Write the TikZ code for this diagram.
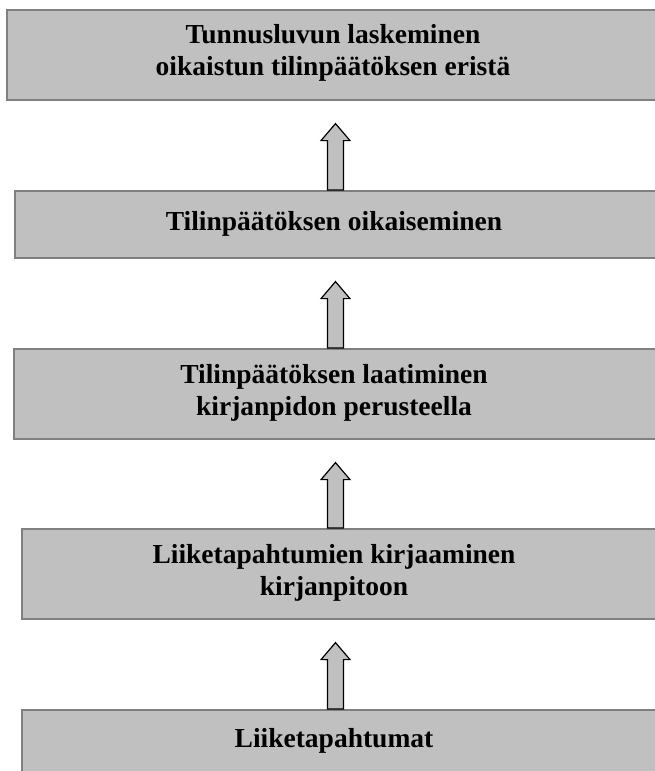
\documentclass[tikz,border=0pt]{standalone}
\usepackage{fontspec}
\setmainfont{Liberation Serif}
\usetikzlibrary{calc,positioning}
\definecolor{boxgray}{RGB}{192,192,192}
\definecolor{edgegray}{RGB}{128,128,128}

% hollow block arrow from lower box #1 up towards upper box #2
\newcommand{\blockup}[2]{%
  \draw[upblock] ($(#1.north -| ax)+(-8,0)$) -- ($(#2.south -| ax)+(-8,40)$)
    -- ($(#2.south -| ax)+(-14.5,40)$) -- ($(#2.south -| ax)+(0,23)$)
    -- ($(#2.south -| ax)+(14.5,40)$) -- ($(#2.south -| ax)+(8,40)$)
    -- ($(#1.north -| ax)+(8,0)$) -- cycle;}

\begin{document}
\begin{tikzpicture}[x=1pt, y=-1pt,
    stagebox/.style={rectangle, draw=edgegray, line width=1.6pt, fill=boxgray, anchor=north west, inner sep=0pt},
    stagetext/.style={align=center, font=\fontsize{27.5}{32}\selectfont\bfseries, inner sep=0pt},
    upblock/.style={draw=black, fill=boxgray, line width=1.2pt, line join=miter}]
   \useasboundingbox (0,0) rectangle (655,771);
   \clip (0,0) rectangle (655,771);
   \coordinate (ax) at (335.5,0);
   \begin{scope}
    \node[stagebox, minimum width=714pt, minimum height=90pt] (b1) at (6,9) {};
    \node[stagebox, minimum width=706pt, minimum height=67pt] (b2) at (14,190) {};
    \node[stagebox, minimum width=707pt, minimum height=90pt] (b3) at (13,348) {};
    \node[stagebox, minimum width=699pt, minimum height=90pt] (b4) at (21,528) {};
    \node[stagebox, minimum width=699pt, minimum height=100pt] (b5) at (21,709) {};
   \end{scope}
   \begin{scope}
    \node[stagetext] (t1) at (333,53) {Tunnusluvun laskeminen\\oikaistun tilinpäätöksen eristä};
    \node[stagetext] (t2) at (334,224) {Tilinpäätöksen oikaiseminen};
    \node[stagetext] (t3) at (334,393) {Tilinpäätöksen laatiminen\\kirjanpidon perusteella};
    \node[stagetext] (t4) at (334,573) {Liiketapahtumien kirjaaminen\\kirjanpitoon};
    \node[stagetext] (t5) at (334,741) {Liiketapahtumat};
   \end{scope}
   \blockup{b2}{b1}
   \blockup{b3}{b2}
   \blockup{b4}{b3}
   \blockup{b5}{b4}
\end{tikzpicture}
\end{document}
